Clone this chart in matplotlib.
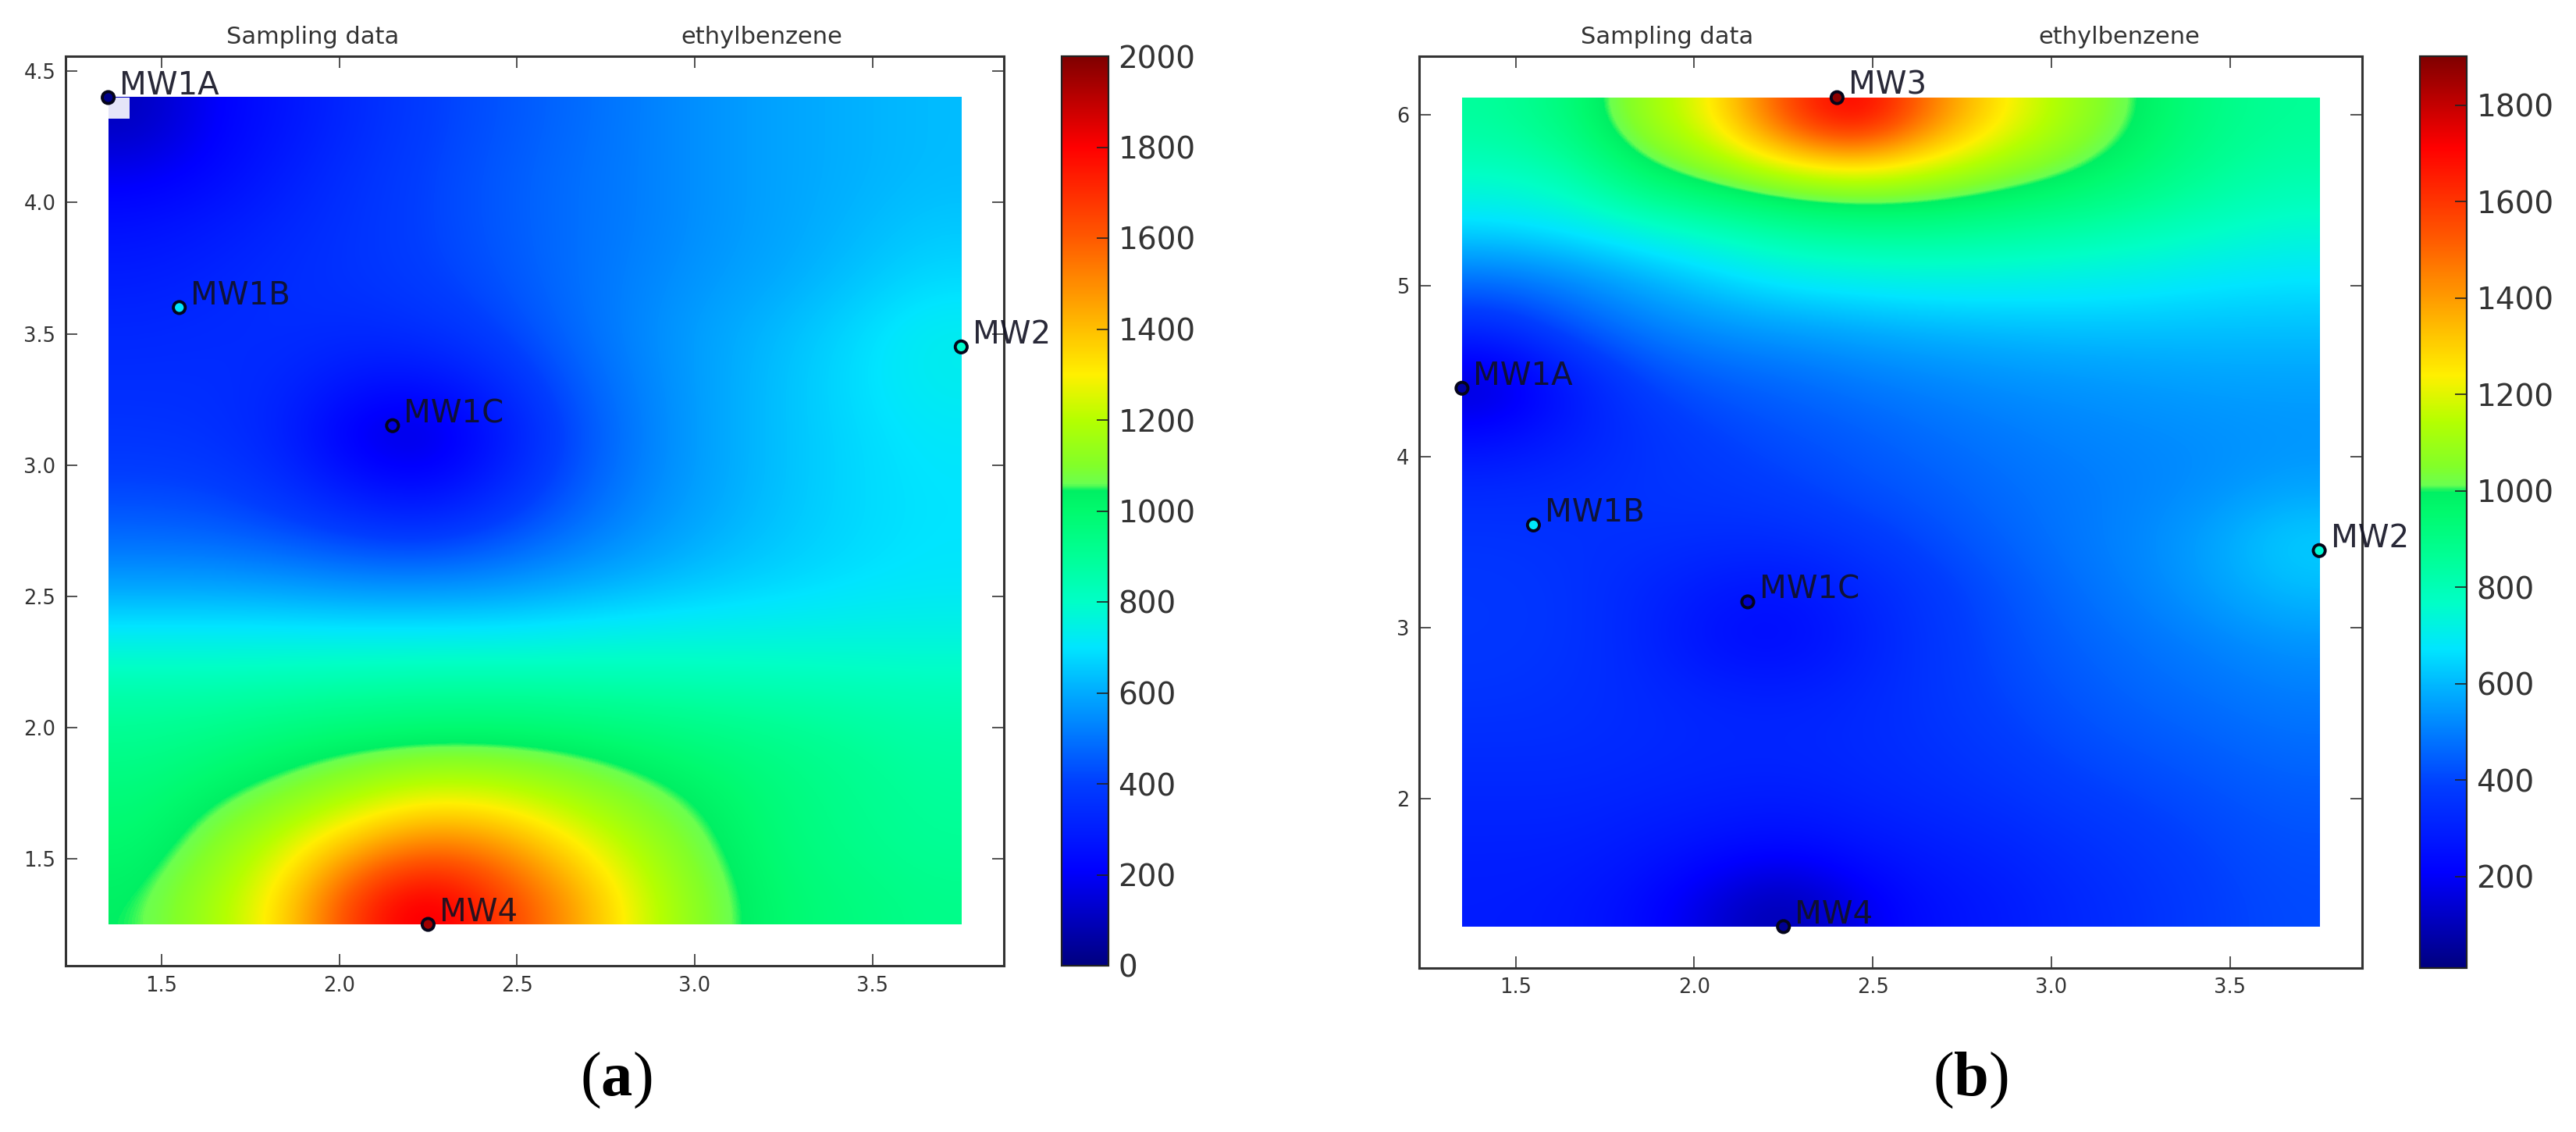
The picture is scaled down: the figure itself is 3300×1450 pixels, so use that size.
#!/usr/bin/env python3
# -*- coding: utf-8 -*-
"""Sampling data maps of ethylbenzene, panels (a) and (b)"""

import matplotlib
matplotlib.use('Agg')
import matplotlib.pyplot as plt
from matplotlib.colors import LinearSegmentedColormap, Normalize
from matplotlib.patches import Rectangle

plt.rcParams['mathtext.fontset'] = 'custom'
plt.rcParams['mathtext.rm'] = 'Liberation Serif'
plt.rcParams['mathtext.bf'] = 'Liberation Serif:bold'

# Wells: position and colour value
WELLS_A = ['MW1A', 'MW1B', 'MW1C', 'MW2', 'MW4']
WELL_X_A = [1.35, 1.55, 2.15, 3.75, 2.25]
WELL_Y_A = [4.40, 3.60, 3.15, 3.45, 1.25]
WELL_VAL_A = [20, 700, 160, 790, 1950]

WELLS_B = ['MW1A', 'MW1B', 'MW1C', 'MW2', 'MW3', 'MW4']
WELL_X_B = [1.35, 1.55, 2.15, 3.75, 2.40, 2.25]
WELL_Y_B = [4.40, 3.60, 3.15, 3.45, 6.10, 1.25]
WELL_VAL_B = [60, 680, 130, 740, 1880, 40]

# Concentration, cells from the top row down
FIELD_A = [
    [100, 210, 270, 340, 400, 440, 480, 520, 560, 590, 610, 630],
    [190, 230, 300, 360, 410, 450, 490, 520, 560, 590, 610, 630],
    [260, 290, 330, 370, 410, 450, 490, 520, 560, 590, 620, 650],
    [300, 320, 350, 370, 400, 440, 490, 530, 570, 600, 640, 680],
    [330, 340, 350, 340, 360, 410, 480, 540, 590, 630, 680, 730],
    [350, 350, 330, 270, 260, 340, 450, 530, 590, 640, 690, 730],
    [370, 360, 310, 170, 130, 270, 420, 520, 590, 640, 680, 710],
    [410, 400, 350, 260, 220, 320, 440, 530, 590, 640, 680, 700],
    [480, 470, 440, 400, 380, 430, 500, 560, 610, 650, 680, 700],
    [590, 590, 580, 560, 560, 570, 600, 630, 660, 680, 700, 710],
    [740, 740, 740, 740, 740, 740, 750, 760, 760, 760, 760, 760],
    [860, 860, 870, 880, 890, 890, 880, 870, 860, 850, 840, 830],
    [920, 950, 990, 1020, 1035, 1035, 1020, 990, 960, 930, 900, 870],
    [970, 1030, 1090, 1180, 1260, 1240, 1160, 1080, 1020, 960, 920, 890],
    [1000, 1100, 1250, 1430, 1560, 1500, 1330, 1170, 1050, 970, 930, 900],
    [1040, 1170, 1350, 1700, 1880, 1680, 1480, 1240, 1080, 990, 960, 930],
]

FIELD_B = [
    [850, 920, 1090, 1230, 1560, 1780, 1480, 1260, 1110, 990, 900, 860],
    [770, 810, 960, 1045, 1120, 1160, 1130, 1060, 1000, 930, 860, 820],
    [660, 690, 740, 790, 850, 880, 880, 860, 840, 810, 780, 750],
    [480, 520, 580, 640, 690, 710, 720, 720, 710, 700, 680, 670],
    [320, 420, 490, 530, 550, 570, 590, 600, 610, 610, 610, 610],
    [120, 270, 390, 440, 460, 490, 510, 530, 540, 550, 560, 560],
    [230, 290, 350, 390, 420, 440, 470, 490, 510, 520, 530, 540],
    [330, 340, 360, 370, 390, 420, 440, 470, 490, 510, 530, 560],
    [360, 350, 350, 340, 340, 370, 410, 450, 490, 520, 570, 640],
    [370, 360, 320, 280, 260, 310, 370, 420, 470, 510, 560, 610],
    [370, 360, 320, 250, 230, 290, 360, 410, 450, 480, 510, 540],
    [360, 350, 330, 310, 300, 320, 360, 400, 430, 460, 480, 500],
    [340, 340, 330, 320, 320, 330, 350, 380, 410, 430, 450, 470],
    [320, 320, 310, 300, 290, 310, 330, 350, 380, 400, 420, 440],
    [300, 300, 280, 250, 230, 260, 290, 310, 340, 370, 400, 420],
    [290, 280, 240, 150, 70, 170, 250, 280, 320, 350, 390, 410],
]

X_TICKS = [1.5, 2.0, 2.5, 3.0, 3.5]
Y_TICKS_A = [1.5, 2.0, 2.5, 3.0, 3.5, 4.0, 4.5]
Y_TICKS_B = [2, 3, 4, 5, 6]
CBAR_TICKS_A = list(range(0, 2001, 200))
CBAR_TICKS_B = list(range(200, 1801, 200))

# Colour bar of the figure: jet with a jump where the green turns lime
CMAP_STOPS = [
    (0.000, (0.00, 0.00, 0.50)),
    (0.105, (0.00, 0.00, 1.00)),
    (0.200, (0.00, 0.24, 1.00)),
    (0.300, (0.00, 0.67, 1.00)),
    (0.350, (0.00, 0.90, 1.00)),
    (0.400, (0.00, 1.00, 0.78)),
    (0.450, (0.00, 1.00, 0.59)),
    (0.500, (0.00, 0.98, 0.43)),
    (0.522, (0.00, 0.94, 0.39)),
    (0.530, (0.42, 1.00, 0.31)),
    (0.550, (0.51, 1.00, 0.16)),
    (0.600, (0.71, 1.00, 0.00)),
    (0.650, (1.00, 0.94, 0.00)),
    (0.700, (1.00, 0.75, 0.00)),
    (0.800, (1.00, 0.35, 0.00)),
    (0.900, (1.00, 0.00, 0.00)),
    (1.000, (0.50, 0.00, 0.00)),
]

FIG_W, FIG_H = 3300, 1450
TEXT_GRAY = '#333333'


def px_axes(fig, left, right, top, bottom):
    """Axes placed by pixel edges of the figure"""
    return fig.add_axes([left / FIG_W, 1 - bottom / FIG_H,
                         (right - left) / FIG_W, (bottom - top) / FIG_H])


def plot_panel(fig, box, cbar_box, field, extent, limits, wells, well_x, well_y, well_val,
               y_ticks, y_fmt, vmin, vmax, cbar_ticks, title_x, panel_label, label_x, cmap):
    ax = px_axes(fig, *box)
    norm = Normalize(vmin, vmax)
    im = ax.imshow(field, extent=extent, origin='upper', aspect='auto',
                   interpolation='bicubic', cmap=cmap, norm=norm)
    ax.scatter(well_x, well_y, c=well_val, cmap=cmap, norm=norm, s=120,
               edgecolors='#05051a', linewidths=2.8, zorder=3, clip_on=False)
    for name, x, y in zip(wells, well_x, well_y):
        ax.annotate(name, (x, y), textcoords='offset points', xytext=(10.5, 3),
                    fontsize=29, color='#111122', alpha=0.9, zorder=4, annotation_clip=False)

    ax.set_xlim(limits[0], limits[1])
    ax.set_ylim(limits[2], limits[3])
    ax.set_xticks(X_TICKS)
    ax.set_xticklabels([f'{t:.1f}' for t in X_TICKS])
    ax.set_yticks(y_ticks)
    ax.set_yticklabels([y_fmt.format(t) for t in y_ticks])
    ax.tick_params(direction='in', top=True, right=True, length=11, width=1.2,
                   color='#333333', labelsize=18.5, labelcolor=TEXT_GRAY, pad=9)
    for spine in ax.spines.values():
        spine.set_linewidth(2.2)
        spine.set_color('#333333')

    for frac, text in zip(title_x, ['Sampling data', 'ethylbenzene']):
        ax.text(frac, 1 + 24 / (box[3] - box[2]), text, transform=ax.transAxes,
                ha='center', va='center', fontsize=22, color=TEXT_GRAY)

    cax = px_axes(fig, *cbar_box)
    cbar = fig.colorbar(im, cax=cax)
    cbar.set_ticks(cbar_ticks)
    cbar.ax.tick_params(direction='in', length=11, width=1.2, color='#222222',
                        labelsize=28, labelcolor=TEXT_GRAY, pad=9)
    cbar.outline.set_linewidth(1.6)
    cbar.outline.set_edgecolor('#222222')

    fig.text(label_x / FIG_W, 1 - 1384 / FIG_H, panel_label, ha='center', va='center',
             fontsize=58, family='Liberation Serif', color='black')
    return ax


def main():
    cmap = LinearSegmentedColormap.from_list('figure_jet', CMAP_STOPS, N=1024)
    fig = plt.figure(figsize=(FIG_W / 100, FIG_H / 100), dpi=100, facecolor='white')

    ax_a = plot_panel(fig, (84, 1286, 72, 1237), (1360, 1420, 72, 1237), FIELD_A,
                      (1.35, 3.75, 1.25, 4.40), (1.23, 3.87, 1.0925, 4.5575),
                      WELLS_A, WELL_X_A, WELL_Y_A, WELL_VAL_A, Y_TICKS_A, '{:.1f}',
                      0, 2000, CBAR_TICKS_A, (0.263, 0.742), r'($\mathbf{a}$)', 789, cmap)
    # Blank cell at the MW1A corner of panel (a)
    ax_a.add_patch(Rectangle((1.35, 4.32), 0.06, 0.08, facecolor='white', edgecolor='none',
                             alpha=0.9, zorder=2))

    plot_panel(fig, (1818, 3026, 72, 1240), (3100, 3160, 72, 1240), FIELD_B,
               (1.35, 3.75, 1.25, 6.10), (1.23, 3.87, 1.0075, 6.3425),
               WELLS_B, WELL_X_B, WELL_Y_B, WELL_VAL_B, Y_TICKS_B, '{:d}',
               10, 1902, CBAR_TICKS_B, (0.263, 0.7425), r'($\mathbf{b}$)', 2524, cmap)

    fig.savefig('out.png', dpi=100, facecolor='white')
    plt.close(fig)


if __name__ == '__main__':
    main()
